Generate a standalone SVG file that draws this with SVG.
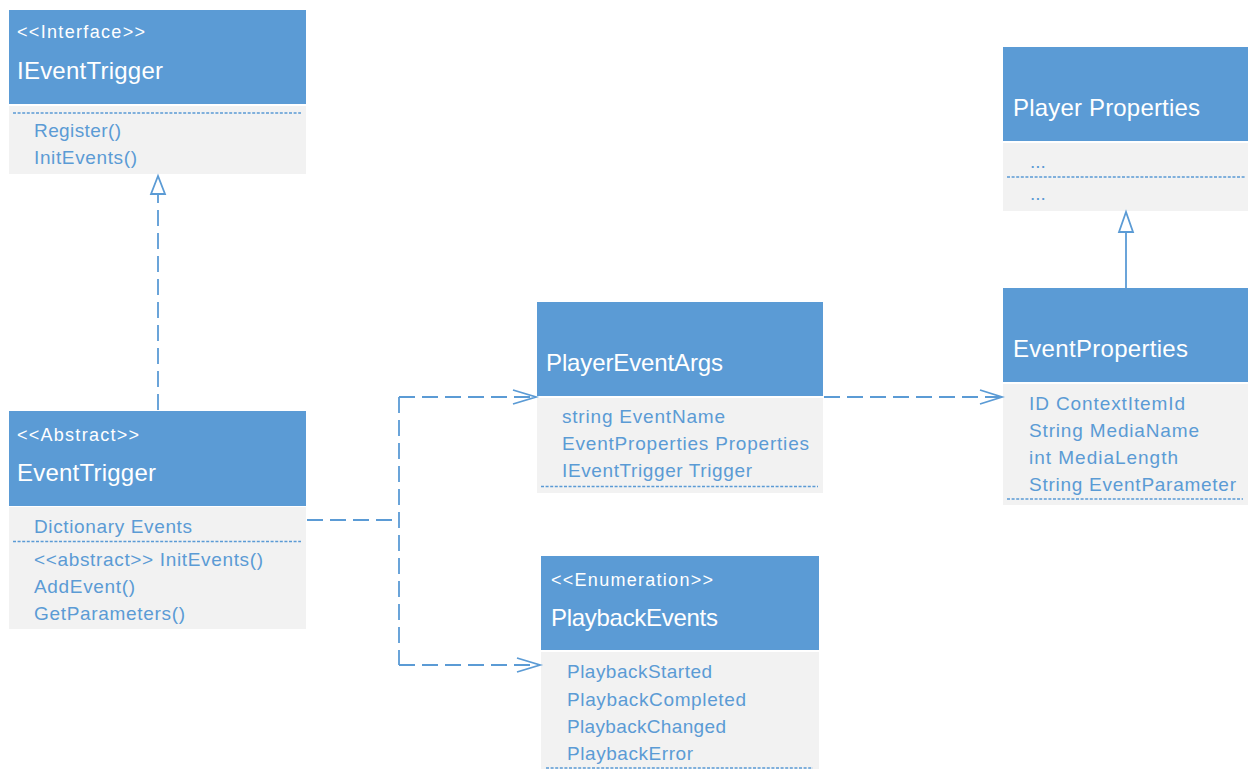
<svg xmlns="http://www.w3.org/2000/svg" width="1248" height="769" viewBox="0 0 1248 769">
<style>
.hd{fill:#5B9BD5}
.bd{fill:#F2F2F2}
.sep{stroke:#5B9BD5;stroke-width:1.3;stroke-dasharray:3 1.6;fill:none}
.st{font-family:"Liberation Sans",Arial,sans-serif;font-size:18px;fill:#FFFFFF}
.nm{font-family:"Liberation Sans",Arial,sans-serif;font-size:24px;fill:#FFFFFF}
.it{font-family:"Liberation Sans",Arial,sans-serif;font-size:19px;fill:#5B9BD5}
.con{stroke:#5B9BD5;stroke-width:1.8;fill:none}
.dash{stroke-dasharray:16 7}
</style>
<rect width="1248" height="769" fill="#FFFFFF"/>

<g id="IEventTrigger">
<rect class="hd" x="9" y="10" width="297" height="94"/>
<rect class="bd" x="9" y="106" width="297" height="68"/>
<text class="st" x="17" y="37.5" textLength="128">&lt;&lt;Interface&gt;&gt;</text>
<text class="nm" x="17" y="79" textLength="146">IEventTrigger</text>
<line class="sep" x1="13" y1="113" x2="301" y2="113"/>
<text class="it" x="34" y="137" textLength="87">Register()</text>
<text class="it" x="34" y="164" textLength="103">InitEvents()</text>
</g>

<g id="EventTrigger">
<rect class="hd" x="9" y="411" width="297" height="95"/>
<rect class="bd" x="9" y="507" width="297" height="122"/>
<text class="st" x="17" y="441" textLength="122">&lt;&lt;Abstract&gt;&gt;</text>
<text class="nm" x="17" y="481" textLength="139">EventTrigger</text>
<text class="it" x="34" y="533" textLength="158">Dictionary Events</text>
<line class="sep" x1="13" y1="541.5" x2="301" y2="541.5"/>
<text class="it" x="34" y="566" textLength="229">&lt;&lt;abstract&gt;&gt; InitEvents()</text>
<text class="it" x="34" y="593" textLength="101">AddEvent()</text>
<text class="it" x="34" y="620" textLength="151">GetParameters()</text>
</g>

<g id="PlayerEventArgs">
<rect class="hd" x="537" y="302" width="286" height="94"/>
<rect class="bd" x="537" y="398" width="286" height="95"/>
<text class="nm" x="546" y="371" textLength="177">PlayerEventArgs</text>
<text class="it" x="562" y="423" textLength="163">string EventName</text>
<text class="it" x="562" y="450" textLength="247">EventProperties Properties</text>
<text class="it" x="562" y="477" textLength="190">IEventTrigger Trigger</text>
<line class="sep" x1="541" y1="486.5" x2="818" y2="486.5"/>
</g>

<g id="PlaybackEvents">
<rect class="hd" x="541" y="556" width="278" height="94"/>
<rect class="bd" x="541" y="652" width="278" height="117"/>
<text class="st" x="551" y="586" textLength="162">&lt;&lt;Enumeration&gt;&gt;</text>
<text class="nm" x="551" y="626" textLength="167">PlaybackEvents</text>
<text class="it" x="567" y="678" textLength="145">PlaybackStarted</text>
<text class="it" x="567" y="705.5" textLength="179">PlaybackCompleted</text>
<text class="it" x="567" y="732.5" textLength="159">PlaybackChanged</text>
<text class="it" x="567" y="759.5" textLength="126">PlaybackError</text>
<line class="sep" x1="546" y1="768" x2="813" y2="768"/>
</g>

<g id="PlayerProperties">
<rect class="hd" x="1003" y="47" width="245" height="94"/>
<rect class="bd" x="1003" y="143" width="245" height="68"/>
<text class="nm" x="1013" y="116" textLength="187">Player Properties</text>
<text class="it" x="1030" y="168">...</text>
<line class="sep" x1="1007" y1="177" x2="1245" y2="177"/>
<text class="it" x="1030" y="200">...</text>
</g>

<g id="EventProperties">
<rect class="hd" x="1003" y="288" width="245" height="94"/>
<rect class="bd" x="1003" y="384" width="245" height="121"/>
<text class="nm" x="1013" y="357" textLength="175">EventProperties</text>
<text class="it" x="1029" y="410" textLength="156">ID ContextItemId</text>
<text class="it" x="1029" y="437" textLength="170">String MediaName</text>
<text class="it" x="1029" y="464" textLength="149">int MediaLength</text>
<text class="it" x="1029" y="491" textLength="207">String EventParameter</text>
<line class="sep" x1="1007" y1="499" x2="1243" y2="499"/>
</g>

<g id="connectors">
<!-- realization EventTrigger -> IEventTrigger -->
<line class="con dash" x1="158" y1="410" x2="158" y2="194"/>
<polygon class="con" points="158,176 151,194 165,194" fill="#FFFFFF"/>
<!-- generalization EventProperties -> Player Properties -->
<line class="con" x1="1126" y1="288" x2="1126" y2="232"/>
<polygon class="con" points="1126,212 1119,232 1133,232" fill="#FFFFFF"/>
<!-- dependencies from EventTrigger -->
<polyline class="con dash" points="307,520 399,520"/>
<polyline class="con dash" points="399,397 399,665"/>
<polyline class="con dash" points="399,397 535,397"/>
<polyline class="con" points="513,390 536,397 513,404"/>
<polyline class="con dash" points="399,665 539,665"/>
<polyline class="con" points="517,658 540,665 517,672"/>
<!-- PlayerEventArgs -> EventProperties -->
<polyline class="con dash" points="824,397 1001,397"/>
<polyline class="con" points="980,390 1002,397 980,404"/>
</g>
</svg>
